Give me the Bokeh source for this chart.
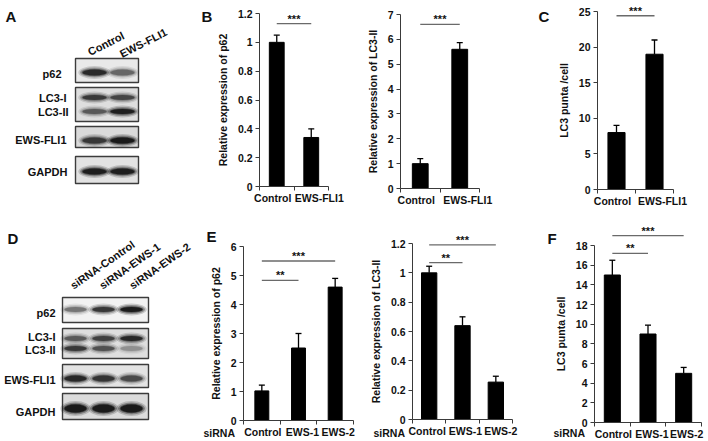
from bokeh.plotting import figure
from bokeh.models import Range1d, LinearAxis, FixedTicker
from bokeh.core.properties import value
from bokeh.embed import file_html
from bokeh.resources import INLINE

W, H = 708, 441
OX, OY = 0, 0          # picture coordinates of the canvas origin
FONT = "Liberation Sans"
TXT = "#111111"
AXC = "#3a3a3a"

# ---------------- data ----------------
b1_cats = ["Control", "EWS-FLI1"]
b1_vals = [1.0, 0.34]
b1_errs = [0.05, 0.06]
b1_yticks = [0, 0.2, 0.4, 0.6, 0.8, 1, 1.2]
b1_sig_pairs = [(0, 1)]
b1_sig_y = [1.13]
b1_sig_txt = ["***"]

b2_cats = ["Control", "EWS-FLI1"]
b2_vals = [1.0, 5.6]
b2_errs = [0.2, 0.27]
b2_yticks = [0, 1, 2, 3, 4, 5, 6, 7]
b2_sig_pairs = [(0, 1)]
b2_sig_y = [6.6]
b2_sig_txt = ["***"]

c_cats = ["Control", "EWS-FLI1"]
c_vals = [8.0, 19.0]
c_errs = [1.0, 2.0]
c_yticks = [0, 5, 10, 15, 20, 25]
c_sig_pairs = [(0, 1)]
c_sig_y = [24.4]
c_sig_txt = ["***"]

e1_cats = ["Control", "EWS-1", "EWS-2"]
e1_vals = [1.02, 2.5, 4.6]
e1_errs = [0.2, 0.5, 0.3]
e1_yticks = [0, 1, 2, 3, 4, 5, 6]
e1_sig_pairs = [(0, 1), (0, 2)]
e1_sig_y = [4.83, 5.5]
e1_sig_txt = ["**", "***"]

e2_cats = ["Control", "EWS-1", "EWS-2"]
e2_vals = [1.0, 0.64, 0.255]
e2_errs = [0.045, 0.06, 0.04]
e2_yticks = [0, 0.2, 0.4, 0.6, 0.8, 1, 1.2]
e2_sig_pairs = [(0, 1), (0, 2)]
e2_sig_y = [1.07, 1.19]
e2_sig_txt = ["**", "***"]

f_cats = ["Control", "EWS-1", "EWS-2"]
f_vals = [15.0, 9.0, 5.0]
f_errs = [1.5, 0.9, 0.6]
f_yticks = [0, 2, 4, 6, 8, 10, 12, 14, 16, 18]
f_sig_pairs = [(0, 1), (0, 2)]
f_sig_y = [17.2, 19.0]
f_sig_txt = ["**", "***"]

# western blot band intensities (0..1), one value per lane
a_lanes = ["Control", "EWS-FLI1"]
a_rows = ["p62", "LC3-I", "LC3-II", "EWS-FLI1", "GAPDH"]
a_p62 = [0.85, 0.45]
a_lc3i = [0.7, 0.62]
a_lc3ii = [0.5, 0.95]
a_ews = [0.7, 1.0]
a_gapdh = [0.95, 0.95]

d_lanes = ["siRNA-Control", "siRNA-EWS-1", "siRNA-EWS-2"]
d_rows = ["p62", "LC3-I", "LC3-II", "EWS-FLI1", "GAPDH"]
d_p62 = [0.4, 0.75, 1.0]
d_lc3i = [0.5, 0.65, 0.85]
d_lc3ii = [0.7, 0.55, 0.25]
d_ews = [0.85, 0.75, 0.6]
d_gapdh = [1.0, 1.0, 1.0]

# ---------------- canvas ----------------
p = figure(width=W, height=H, x_range=Range1d(OX, OX + W), y_range=Range1d(OY + H, OY),
           x_axis_type=None, y_axis_type=None, toolbar_location=None,
           output_backend="svg", min_border=0, outline_line_color=None,
           background_fill_color="white", border_fill_color="white")


def txt(x, y, s, size="10.5px", align="left", baseline="middle", angle=0.0, color=TXT, **kw):
    p.text(x=x, y=y, text=s, text_font=value(FONT), text_font_style="bold",
           text_font_size=size, text_align=align, text_baseline=baseline,
           angle=angle, text_color=color, **kw)


def chart(key, cats, vals, errs, yticks, ylabel, sig_pairs, sig_y, sig_txt,
          box, bar_w, xlab_off, lab_shift):
    x0, x1, y0, y1 = box
    n = len(cats)
    ymax = yticks[-1]
    cx0, cx1 = x0 - OX, x1 - OX
    cy0, cy1 = y0 - OY, y1 - OY
    sx = (cx1 - cx0) / n
    sy = (cy0 - cy1) / ymax
    xn, yn = key + "x", key + "y"
    p.extra_x_ranges[xn] = Range1d(start=-cx0 / sx, end=n + (W - cx1) / sx)
    p.extra_y_ranges[yn] = Range1d(start=-(H - cy0) / sy, end=ymax + cy1 / sy)
    rk = dict(x_range_name=xn, y_range_name=yn)

    yax = LinearAxis(fixed_location=0, bounds=(0, ymax),
                     ticker=FixedTicker(ticks=yticks, minor_ticks=[]),
                     major_label_overrides={t: f"{t:g}" for t in yticks},
                     axis_label=ylabel, axis_label_standoff=6,
                     axis_label_text_font=FONT, axis_label_text_font_style="bold",
                     axis_label_text_font_size="10.5px", axis_label_text_color=TXT,
                     major_label_text_font=FONT, major_label_text_font_style="bold",
                     major_label_text_font_size="10.5px", major_label_text_color=TXT,
                     major_label_standoff=3, major_tick_out=4, major_tick_in=0,
                     minor_tick_out=0, minor_tick_in=0,
                     axis_line_color=AXC, major_tick_line_color=AXC, **rk)
    p.add_layout(yax, "left")

    centers = [i + 0.5 for i in range(n)]
    lab_x = [c + s / sx for c, s in zip(centers, lab_shift)]
    xax = LinearAxis(fixed_location=0, bounds=(0, n),
                     ticker=FixedTicker(ticks=lab_x, minor_ticks=list(range(n + 1))),
                     major_label_overrides={c: s for c, s in zip(lab_x, cats)},
                     major_label_text_font=FONT, major_label_text_font_style="bold",
                     major_label_text_font_size="10.5px", major_label_text_color=TXT,
                     major_label_standoff=xlab_off, major_tick_out=0, major_tick_in=0,
                     minor_tick_out=4, minor_tick_in=0,
                     axis_line_color=AXC, minor_tick_line_color=AXC, **rk)
    p.add_layout(xax, "below")

    p.vbar(x=centers, top=vals, bottom=0, width=bar_w, fill_color="black",
           line_color="black", **rk)
    tops = [v + e for v, e in zip(vals, errs)]
    cap = 3.0 / sx
    p.segment(x0=centers, y0=vals, x1=centers, y1=tops, line_color="black",
              line_width=1.3, **rk)
    p.segment(x0=[c - cap for c in centers], y0=tops, x1=[c + cap for c in centers],
              y1=tops, line_color="black", line_width=1.3, **rk)

    sx0 = [centers[a] for a, b in sig_pairs]
    sx1 = [centers[b] for a, b in sig_pairs]
    p.segment(x0=sx0, y0=sig_y, x1=sx1, y1=sig_y, line_color="#6a6a6a",
              line_width=1.3, **rk)
    p.text(x=[(a + b) / 2 for a, b in zip(sx0, sx1)], y=sig_y, text=sig_txt,
           text_font=value(FONT), text_font_style="bold", text_font_size="11px",
           text_align="center", text_baseline="bottom", y_offset=1,
           text_color=TXT, **rk)


TWO = [-4, 8]
THREE = [1, 4, 3]
chart("b1", b1_cats, b1_vals, b1_errs, b1_yticks, "Relative expression of p62",
      b1_sig_pairs, b1_sig_y, b1_sig_txt, (259, 328, 186, 13), 0.43, 1, TWO)
chart("b2", b2_cats, b2_vals, b2_errs, b2_yticks, "Relative expression of LC3-II",
      b2_sig_pairs, b2_sig_y, b2_sig_txt, (400, 479, 188, 14), 0.40, 1, TWO)
chart("c", c_cats, c_vals, c_errs, c_yticks, "LC3 punta /cell",
      c_sig_pairs, c_sig_y, c_sig_txt, (597, 673, 189, 11), 0.45, 1, TWO)
chart("e1", e1_cats, e1_vals, e1_errs, e1_yticks, "Relative expression of p62",
      e1_sig_pairs, e1_sig_y, e1_sig_txt, (243, 353, 420, 246), 0.38, 1, THREE)
chart("e2", e2_cats, e2_vals, e2_errs, e2_yticks, "Relative expression of LC3-II",
      e2_sig_pairs, e2_sig_y, e2_sig_txt, (412, 512, 419, 243), 0.46, 1, [-2, 3, 5])
chart("f", f_cats, f_vals, f_errs, f_yticks, "LC3 punta /cell",
      f_sig_pairs, f_sig_y, f_sig_txt, (594, 701, 422, 245), 0.45, 1, THREE)

# "siRNA" row titles
txt([203, 373, 553], [432, 432, 432], ["siRNA"] * 3)

# ---------------- western blots ----------------
def blot(box_x, lanes_x, lane_w, boxes, fills, bands, labels, label_pos,
         lane_names, lane_pos, lane_angle):
    bx0, bx1 = box_x
    for (t, b), fc in zip(boxes, fills):
        p.rect(x=[(bx0 + bx1) / 2], y=[(t + b) / 2], width=[bx1 - bx0], height=[b - t],
               fill_color=fc, line_color="#3c3c3c", line_width=1.4)
    for inten, yc, hh in bands:
        ys = [yc] * len(lanes_x)
        for grow, a in ((7, 0.18), (4, 0.3), (1.5, 0.45), (0, 0.75)):
            p.ellipse(x=lanes_x, y=ys, width=lane_w + grow * 1.2, height=hh + grow,
                      fill_color="#0a0a0a", fill_alpha=[a * i for i in inten],
                      line_color=None)
    for s, (x, y) in zip(labels, label_pos):
        txt([x], [y], [s], size="11px", align="right")
    for s, (x, y) in zip(lane_names, lane_pos):
        txt([x], [y], [s], size="11px", align="left", baseline="alphabetic",
            angle=lane_angle)


blot((75, 138), [94, 122], 24,
     [(58, 82), (87, 121), (126, 147), (156, 183)],
     ["#e9e9e9", "#dedede", "#dadada", "#e2e2e2"],
     [(a_p62, 72, 6), (a_lc3i, 97, 5), (a_lc3ii, 111, 5), (a_ews, 140, 6), (a_gapdh, 171, 6)],
     a_rows, [(61, 73), (66, 97), (68, 111), (66, 139), (67, 171)],
     a_lanes, [(88, 52), (120, 54)], 0.47)

blot((62, 148), [75, 103, 131], 22,
     [(297, 322), (328, 358), (364, 387), (393, 419)],
     ["#f2f2f2", "#dedede", "#e3e3e3", "#dcdcdc"],
     [(d_p62, 309, 5), (d_lc3i, 338, 5), (d_lc3ii, 348, 5), (d_ews, 378, 6), (d_gapdh, 408, 8)],
     d_rows, [(55, 312), (55, 336), (55, 349), (55, 379), (55, 411)],
     d_lanes, [(71, 286), (100, 286), (130, 286)], 0.61)

# panel letters
txt([5, 201, 538, 7, 206, 547], [16, 16, 16, 238, 236, 238],
    ["A", "B", "C", "D", "E", "F"], size="15px", baseline="alphabetic")

open("out.html", "w").write(file_html(p, INLINE))
